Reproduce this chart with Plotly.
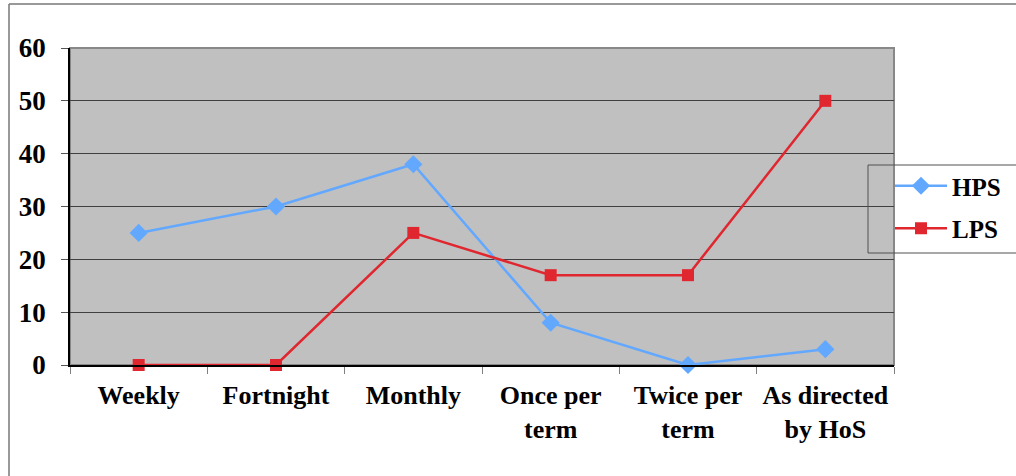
import plotly.graph_objects as go

categories = ["Weekly", "Fortnight", "Monthly", "Once per<br>term", "Twice per<br>term", "As directed<br>by HoS"]
hps = [25, 30, 38, 8, 0, 3]
lps = [0, 0, 25, 17, 17, 50]
y_ticks = [0, 10, 20, 30, 40, 50, 60]

W, H = 1016, 476
L, R, T, B = 70, 122, 48, 111
pw, ph = W - L - R, H - T - B


def px_x(x):
    return (x - L) / pw


def px_y(y):
    return (H - B - y) / ph


FAMILY = "Liberation Serif, Times New Roman, serif"
x_font = dict(family=FAMILY, size=26, color="black", weight="bold")
y_font = dict(family=FAMILY, size=27, color="black", weight="bold")
legend_font = dict(family=FAMILY, size=25, color="black", weight="bold")

fig = go.Figure()
fig.add_trace(go.Scatter(
    x=categories, y=hps, name="HPS", mode="lines+markers", legendgroup="a",
    line=dict(color="#62A8FF", width=2.5),
    marker=dict(symbol="diamond", size=14, color="#62A8FF"),
    cliponaxis=False,
))
fig.add_trace(go.Scatter(
    x=categories, y=lps, name="LPS", mode="lines+markers", legendgroup="b",
    line=dict(color="#E0262E", width=2.5),
    marker=dict(symbol="square", size=12, color="#E0262E"),
    cliponaxis=False,
))

shapes = [
    # plot frame
    dict(type="rect", xref="paper", yref="paper", x0=0, x1=1, y0=0, y1=1,
         line=dict(color="#888888", width=2), fillcolor="rgba(0,0,0,0)", layer="below"),
    # outer chart border
    dict(type="line", xref="paper", yref="paper", x0=px_x(9), x1=px_x(9), y0=px_y(4), y1=px_y(480),
         line=dict(color="#777777", width=1.5)),
    dict(type="line", xref="paper", yref="paper", x0=px_x(9), x1=px_x(1020), y0=px_y(4), y1=px_y(4),
         line=dict(color="#777777", width=1.5)),
    # legend box
    dict(type="rect", xref="paper", yref="paper", x0=px_x(868), x1=px_x(1030), y0=px_y(253), y1=px_y(165),
         line=dict(color="#505050", width=1), fillcolor="rgba(0,0,0,0)", layer="above"),
]

fig.update_layout(
    width=W, height=H,
    margin=dict(l=L, r=R, t=T, b=B, autoexpand=False),
    paper_bgcolor="white",
    plot_bgcolor="#C0C0C0",
    font=y_font,
    showlegend=True,
    legend=dict(
        x=px_x(890), y=px_y(163), xanchor="left", yanchor="top",
        bgcolor="rgba(0,0,0,0)", borderwidth=0, itemwidth=52,
        font=legend_font, tracegroupgap=7, traceorder="grouped",
    ),
    shapes=shapes,
    xaxis=dict(
        type="category", tickson="boundaries", ticks="outside", ticklen=7, tickcolor="#808080",
        showgrid=False, showline=True, linecolor="black", linewidth=1.5,
        tickfont=x_font, range=[-0.5, 5.5], ticklabelstandoff=6, tickangle=0, automargin=False,
    ),
    yaxis=dict(
        range=[0, 60], tickvals=y_ticks, ticks="outside", ticklen=7, tickcolor="#555555",
        showgrid=True, gridcolor="#404040", gridwidth=1,
        showline=True, linecolor="black", linewidth=1.5, zeroline=False,
        tickfont=y_font, ticklabelstandoff=10, automargin=False,
    ),
)

fig.write_html("out.html")
